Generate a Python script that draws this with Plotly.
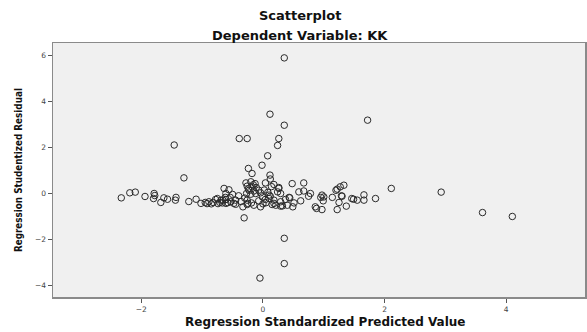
import plotly.graph_objects as go

# Regression Standardized Predicted Value (x) and Studentized Residual (y)
pred = [
    -2.33, -2.19, -2.10, -1.94, -1.79, -1.78, -1.80, -1.68, -1.63, -1.57, -1.43, -1.44, -1.46, -1.30, -1.22, -1.10,
    -1.02, -0.95, -0.89, -0.82, -0.78, -0.75, -0.71, -0.66, -0.61, -0.67, -0.69, -0.61, -0.64, -0.56, -0.61,
    -0.62, -0.54, -0.53, -0.50, -0.45, -0.48, -0.45, -0.40, -0.33, -0.31, -0.26, -0.25, -0.26, -0.19, -0.15,
    -0.04, -0.07, -0.01, 0.04, 0.10, -0.85, -0.92, -0.74, -0.58, -0.36, -0.30,
    -0.28, -0.20, -0.13, -0.26, -0.18, -0.11, -0.23, -0.15, -0.07, -0.27, -0.20, -0.12, -0.04, -0.24, -0.16,
    0.35, 0.115, 1.72, 0.35, -0.39, -0.26, 0.26, 0.24, 0.077, -0.016, -0.24, -0.18, 0.115, 0.12, 0.04, 0.18, 0.26,
    0.35, 0.35, -0.05,
    0.48, 0.67, 0.59, 0.67, 0.78, 0.75, 0.95, 1.00, 0.99, 0.97, 1.14, 1.20, 1.27, 1.33, 1.22, 1.30, 1.25, 1.37,
    1.22, 1.49, 1.55, 1.46, 1.66, 1.66, 1.85, 0.88, 0.97, 0.86, 0.62, 0.51, 0.49, 0.43, 0.37, 0.29, 0.18, 0.10,
    0.18, 0.29, 0.44, 0.40, 0.32, 0.21, 0.15, 0.26, 0.24, 0.29, 1.29,
    0.02, 0.08, 0.12, 0.05, 0.00, 0.14,
    2.11, 2.93, 3.61, 4.10,
]
resid = [
    -0.19, 0.03, 0.06, -0.13, 0.00, -0.09, -0.22, -0.39, -0.19, -0.25, -0.17, -0.29, 2.11, 0.68, -0.35, -0.25,
    -0.43, -0.39, -0.36, -0.39, -0.26, -0.22, -0.39, -0.29, -0.43, -0.41, -0.29, -0.26, 0.22, 0.16, 0.00,
    -0.17, -0.17, -0.36, -0.04, -0.29, -0.43, -0.47, -0.10, -0.58, -1.06, -0.29, -0.43, -0.48, -0.41, -0.51,
    -0.58, -0.32, -0.15, -0.26, -0.07, -0.45, -0.44, -0.44, -0.40, -0.35, -0.20,
    0.46, 0.51, 0.43, 0.32, 0.29, 0.26, 0.14, 0.11, 0.14, 0.00, -0.03, 0.00, 0.03, 0.20, 0.38,
    5.90, 3.45, 3.19, 2.97, 2.39, 2.39, 2.39, 2.09, 1.64, 1.23, 1.09, 0.87, 0.80, 0.63, 0.46, 0.39, 0.26,
    -1.95, -3.05, -3.68,
    0.43, 0.46, 0.07, 0.11, 0.00, -0.12, -0.17, -0.15, -0.32, -0.07, -0.17, 0.14, 0.29, 0.36, 0.19, -0.12, -0.39, -0.55,
    -0.70, -0.25, -0.29, -0.22, -0.06, -0.29, -0.22, -0.65, -0.70, -0.58, -0.32, -0.41, -0.58, -0.17, -0.26, -0.55, -0.43, -0.22,
    -0.29, -0.36, -0.19, -0.51, -0.54, -0.51, -0.48, 0.22, 0.07, 0.00, -0.10,
    0.15, 0.05, -0.12, -0.40, -0.45, 0.30,
    0.22, 0.06, -0.83, -1.00,
]

x_ticks = [-2, 0, 2, 4]
y_ticks = [-4, -2, 0, 2, 4, 6]

title_1 = "Scatterplot"
title_2 = "Dependent Variable: KK"
x_title = "Regression Standardized Predicted Value"
y_title = "Regression Studentized Residual"

W, H = 587, 332
L, R, T, B = 53.3, 0, 42.7, 35.3

fig = go.Figure()
fig.add_trace(go.Scatter(
    x=pred, y=resid, mode="markers",
    marker=dict(symbol="circle-open", size=6.5, color="#2a2a2a", line=dict(width=1, color="#2a2a2a")),
    hoverinfo="skip", showlegend=False,
))

def lab(v):
    return str(v) if v >= 0 else "\u2212" + str(-v)

axis_common = dict(
    showgrid=False, zeroline=False, showline=True, mirror=True,
    linecolor="#8a8a8a", linewidth=1.5,
    ticks="outside", ticklen=4, tickwidth=1, tickcolor="#555555",
    tickfont=dict(family="DejaVu Sans", size=7.5, color="#444444"),
)

fig.update_layout(
    width=W, height=H,
    margin=dict(l=L, r=R, t=T, b=B, pad=0),
    paper_bgcolor="white", plot_bgcolor="#f0f0f0",
    xaxis=dict(range=[-3.453, 5.295], tickvals=x_ticks, ticktext=[lab(v) for v in x_ticks], **axis_common),
    yaxis=dict(range=[-4.504, 6.548], tickvals=y_ticks, ticktext=[lab(v) for v in y_ticks], **axis_common),
)

pw = W - L - R
ph = H - T - B
def px(xp):
    return (xp - L) / pw
def py(yp):
    return (H - B - yp) / ph

fig.add_annotation(text=title_1, x=px(301), y=py(15), xref="paper", yref="paper",
                   showarrow=False, xanchor="center", yanchor="middle",
                   font=dict(family="DejaVu Sans", size=13, color="#111111", weight="bold"))
fig.add_annotation(text=title_2, x=px(301), y=py(35), xref="paper", yref="paper",
                   showarrow=False, xanchor="center", yanchor="middle",
                   font=dict(family="DejaVu Sans", size=13, color="#111111", weight="bold"))
fig.add_annotation(text=x_title, x=px(326), y=py(322), xref="paper", yref="paper",
                   showarrow=False, xanchor="center", yanchor="middle",
                   font=dict(family="DejaVu Sans", size=12, color="#111111", weight="bold"))
fig.add_annotation(text=y_title, x=px(18), y=py(170), xref="paper", yref="paper",
                   showarrow=False, xanchor="center", yanchor="middle", textangle=-90,
                   font=dict(family="Liberation Sans Narrow, DejaVu Sans Condensed, sans-serif", size=9.8, color="#111111", weight="bold"))

fig.write_html("out.html", config={"displayModeBar": False, "staticPlot": True},
               post_script="document.body.style.margin='0';document.body.style.overflow='hidden';")
